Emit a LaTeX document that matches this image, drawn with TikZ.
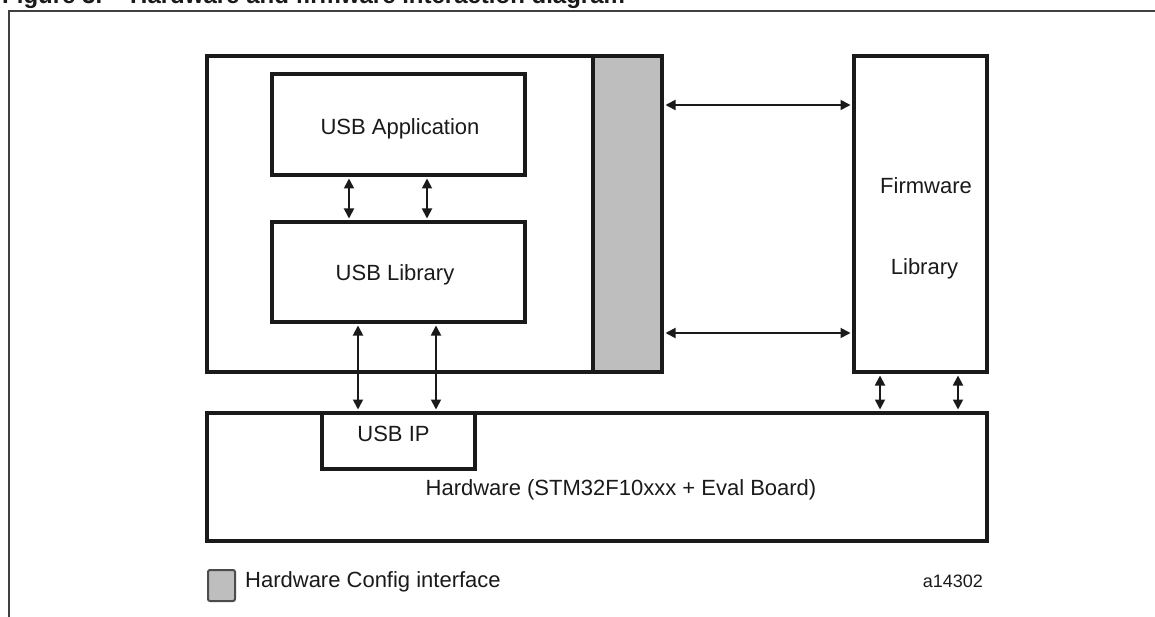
\documentclass[tikz,border=0pt]{standalone}
\usepackage{fontspec}
\setmainfont{Liberation Sans}
\usetikzlibrary{arrows.meta}
\definecolor{cfggray}{HTML}{BEBEBE}
\definecolor{ink}{HTML}{1A1A1A}
\tikzset{
  blk/.style={draw=ink, line width=3.5pt, fill=white, inner sep=0pt, rectangle},
  lbl/.style={font=\fontsize{22}{26}\selectfont, inner sep=0pt, anchor=base, text=ink},
  link/.style={draw=ink, line width=1.8pt, shorten >=1.75pt, shorten <=1.75pt,
    {Triangle[length=10pt,width=10pt]}-{Triangle[length=10pt,width=10pt]}},
}
\begin{document}
\begin{tikzpicture}[x=1pt,y=-1pt]
\clip (0,0) rectangle (1155,617);
\fill[white] (0,0) rectangle (1155,617);
% title (cut off at top)
\node[font=\bfseries\fontsize{24}{28}\selectfont, anchor=base west, inner sep=0pt, text=ink] (title) at (2,4)
  {Figure 3.\hspace{28pt}Hardware and firmware interaction diagram};
% frame
\draw[line width=2pt, draw=black!75] (8,11) -- (1160,11);
\draw[line width=1.5pt, draw=black!75] (9,11) -- (9,620);
% blocks
\node[blk, minimum width=455pt, minimum height=316pt] (host) at (434.5,214) {};
\node[blk, fill=cfggray, minimum width=69pt, minimum height=316pt] (cfg) at (627.5,214) {};
\node[blk, minimum width=253pt, minimum height=101pt] (app) at (398.5,124.5) {};
\node[blk, minimum width=253pt, minimum height=100pt] (lib) at (398.5,272) {};
\node[blk, minimum width=133pt, minimum height=316pt] (fw) at (920.5,214) {};
\node[blk, minimum width=780pt, minimum height=128pt] (hw) at (597,477) {};
\node[blk, minimum width=153pt, minimum height=56pt] (ip) at (398.5,441) {};
% labels
\node[lbl] (appt) at (400,135) {USB Application};
\node[lbl] (libt) at (395,280) {USB Library};
\node[lbl] (fwt1) at (926,194) {Firmware};
\node[lbl] (fwt2) at (924.5,275) {Library};
\node[lbl] (ipt) at (393.5,441) {USB IP};
\node[lbl] (hwt) at (621,495) {Hardware (STM32F10xxx + Eval Board)};
% connectors
\draw[link] ([xshift=-49.5pt]app.south) -- ([xshift=-49.5pt]lib.north);
\draw[link] ([xshift=28.5pt]app.south) -- ([xshift=28.5pt]lib.north);
\draw[link] ([xshift=-40.5pt]lib.south) -- ([xshift=-40.5pt]ip.north);
\draw[link] ([xshift=37.5pt]lib.south) -- ([xshift=37.5pt]ip.north);
\draw[link] ([yshift=109pt]cfg.east) -- ([yshift=109pt]cfg.east -| fw.west);
\draw[link] ([yshift=-119pt]cfg.east) -- ([yshift=-119pt]cfg.east -| fw.west);
\draw[link] ([xshift=-40.5pt]fw.south) -- ([xshift=-40.5pt]fw.south |- hw.north);
\draw[link] ([xshift=37.5pt]fw.south) -- ([xshift=37.5pt]fw.south |- hw.north);
% legend
\node[draw=black!70, fill=cfggray, line width=2pt, rounded corners=2pt, minimum width=27pt, minimum height=31pt, inner sep=0pt] (key) at (221.5,585.5) {};
\node[lbl, anchor=base west] (keyt) at (245,587) {Hardware Config interface};
\node[lbl, anchor=base east, font=\fontsize{18}{21}\selectfont] (id) at (983,587) {a14302};
\end{tikzpicture}
\end{document}
